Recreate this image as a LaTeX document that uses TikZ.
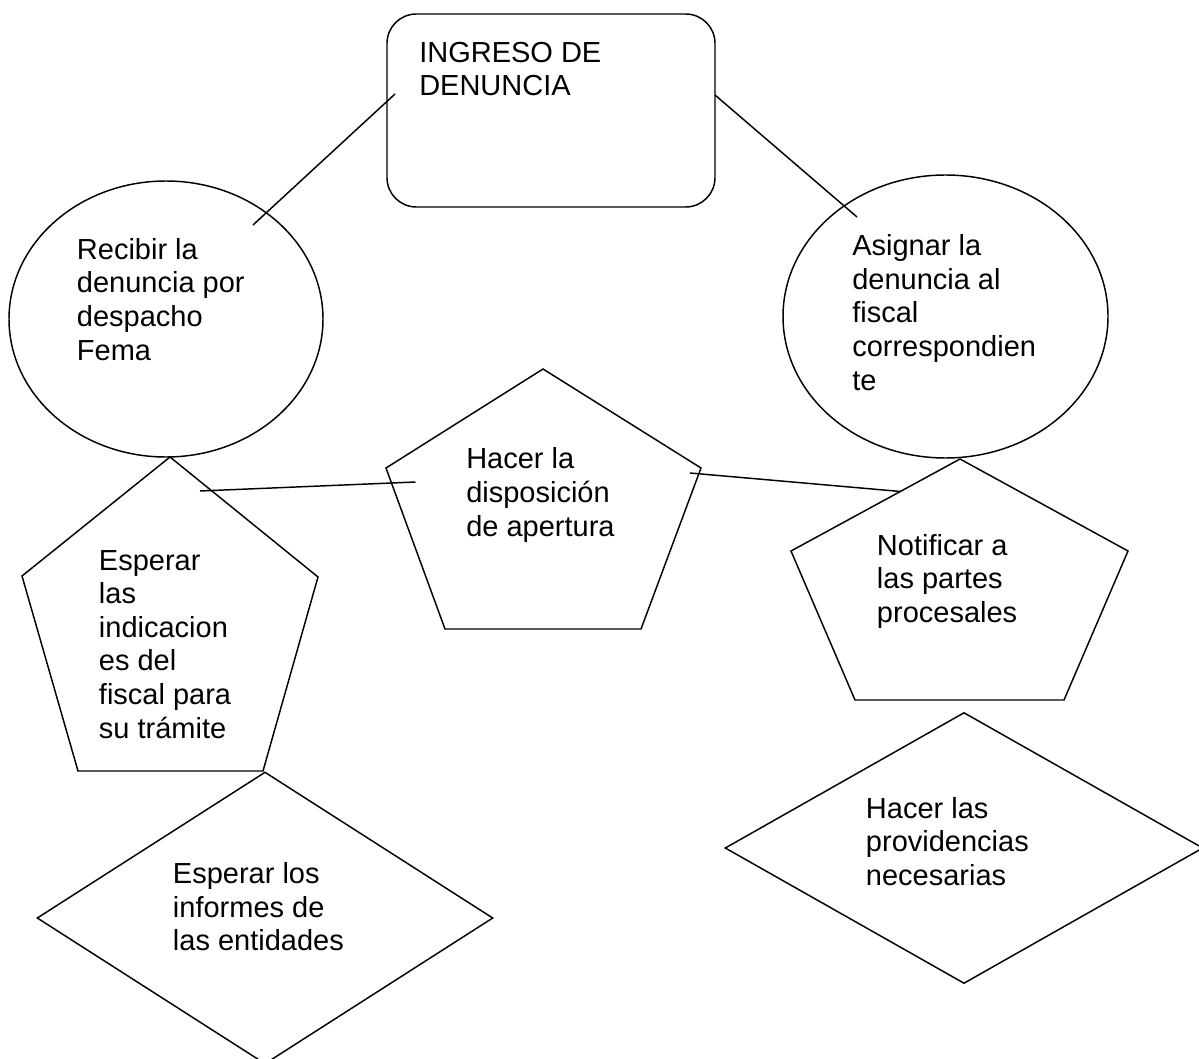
\documentclass[tikz,border=0pt]{standalone}
\usepackage{fontspec}
\setmainfont{Liberation Sans}
\usetikzlibrary{shapes.geometric}

\tikzset{
    shapebox/.style={draw, line width=1.1pt, inner sep=0pt},
    txt/.style={anchor=base west, align=left, inner sep=0pt,
        font=\fontsize{21.75pt}{25.2pt}\selectfont},
    link/.style={line width=1.1pt}
}

\begin{document}
\begin{tikzpicture}[x=0.75pt, y=-0.75pt]

    % page
    \useasboundingbox (0,0) rectangle (1199,1059);
    \clip (0,0) rectangle (1199,1059);

    % shapes
    \node (ingreso) [shapebox, rectangle, rounded corners=22pt, minimum width=246pt, minimum height=144.75pt] at (551,110.5) {};
    \node (recibir) [shapebox, ellipse, minimum width=235.5pt, minimum height=207pt] at (166,319) {};
    \node (asignar) [shapebox, ellipse, minimum width=243.75pt, minimum height=212.25pt] at (945.5,316.5) {};
    \node (informes) [shapebox, diamond, minimum width=342pt, minimum height=219pt] at (265,918) {};
    \node (providencias) [shapebox, diamond, minimum width=358.5pt, minimum height=203.25pt] at (964,848) {};

    % pentagons
    \draw [line width=1.1pt] (170,457) -- (318,577) -- (263,771) -- (78,771) -- (22,576) -- cycle;
    \draw [line width=1.1pt] (543,369) -- (701,468) -- (641,629) -- (445,629) -- (386,468) -- cycle;
    \draw [line width=1.1pt] (960,459) -- (1128,551) -- (1064,700) -- (855,700) -- (791,551) -- cycle;

    % connector ends
    \coordinate (a1) at (395,94);
    \coordinate (a2) at (253,225);
    \coordinate (b1) at (715,95);
    \coordinate (b2) at (857,217);
    \coordinate (c1) at (200,491);
    \coordinate (c2) at (415.5,482);
    \coordinate (d1) at (690,473);
    \coordinate (d2) at (900.7,491.5);

    \draw [link] (a1) -- (a2);
    \draw [link] (b1) -- (b2);
    \draw [link] (c1) -- (c2);
    \draw [link] (d1) -- (d2);

    % labels (placed at baseline of last line)
    \node (ingresotxt) [txt] at (419,96) {INGRESO DE\\DENUNCIA};
    \node (recibirtxt) [txt] at (76.7,360) {Recibir la\\denuncia por\\despacho\\Fema};
    \node (asignartxt) [txt] at (852,390) {Asignar la\\denuncia al\\fiscal\\correspondien\\te};
    \node (aperturatxt) [txt] at (466,536) {Hacer la\\disposición\\de apertura};
    \node (esperartxt) [txt] at (98.7,738) {Esperar\\las\\indicacion\\es del\\fiscal para\\su trámite};
    \node (notificartxt) [txt] at (876.7,622.5) {Notificar a\\las partes\\procesales};
    \node (providenciastxt) [txt] at (865.7,885.5) {Hacer las\\providencias\\necesarias};
    \node (informestxt) [txt] at (172.7,950.6) {Esperar los\\informes de\\las entidades};

\end{tikzpicture}
\end{document}
